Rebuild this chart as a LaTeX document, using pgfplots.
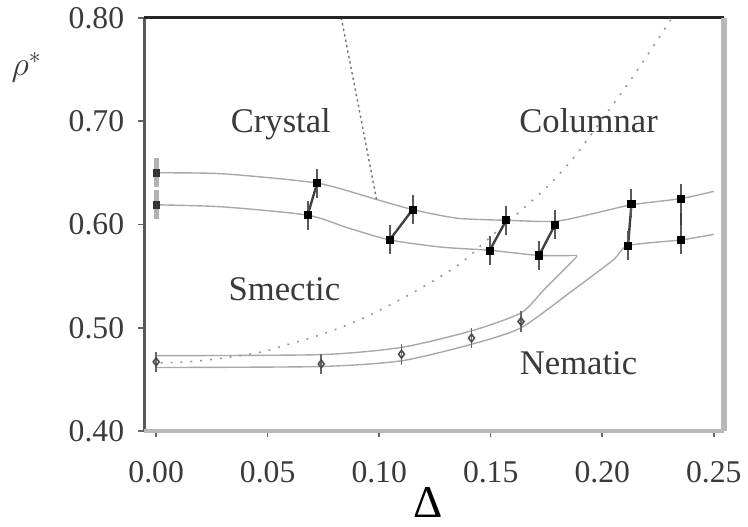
\documentclass[border=0pt]{standalone}
\usepackage{pgfplots}
\pgfplotsset{compat=1.18}
\usepackage{fontspec}
\setmainfont{Liberation Serif}
\definecolor{txt}{HTML}{3A3A3A}
\definecolor{ln}{HTML}{A8A8A8}
\definecolor{frm}{HTML}{B8B8B8}
\begin{document}
\begin{tikzpicture}
\begin{axis}[
  at={(0,0)}, anchor=south west,
  scale only axis, width=293pt, height=209pt,
  xmin=-0.0053, xmax=0.2545, ymin=0.40, ymax=0.80,
  axis x line*=bottom, axis y line*=left,
  axis line style={draw=none},
  clip=false,
  xtick={0,0.05,0.10,0.15,0.20,0.25},
  ytick={0.40,0.50,0.60,0.70,0.80},
  tick align=outside,
  major tick length=3pt,
  tick style={draw=black!60, line width=0.8pt},
  /pgf/number format/assume math mode=true,
  xticklabel style={/pgf/number format/.cd, fixed, fixed zerofill, precision=2, /tikz/.cd, font=\fontsize{16}{18}\selectfont, text=txt, yshift=-9pt},
  yticklabel style={/pgf/number format/.cd, fixed, fixed zerofill, precision=2, /tikz/.cd, font=\fontsize{16}{18}\selectfont, text=txt, xshift=-3.7pt},
]
% solid boundary lines
\addplot[ln, line width=0.7pt, smooth, tension=0.4] coordinates {
 (0,0.650) (0.03,0.649) (0.0722,0.640) (0.099,0.624) (0.115,0.6144) (0.135,0.606) (0.157,0.604) (0.1788,0.603) (0.195,0.610) (0.2131,0.619) (0.2353,0.625) (0.25,0.632)};
\addplot[ln, line width=0.7pt, smooth, tension=0.4] coordinates {
 (0,0.619) (0.03,0.617) (0.0679,0.609) (0.0855,0.597) (0.1047,0.585) (0.128,0.578) (0.1495,0.575) (0.1717,0.570) (0.1887,0.570)};
\addplot[ln, line width=0.7pt, smooth, tension=0.4] coordinates {
 (0,0.473) (0.074,0.474) (0.110,0.481) (0.1414,0.497) (0.1636,0.5144) (0.1739,0.5368) (0.1887,0.569)};
\addplot[ln, line width=0.7pt, smooth, tension=0.4] coordinates {
 (0,0.4615) (0.074,0.4625) (0.110,0.468) (0.1414,0.484) (0.1636,0.500) (0.1872,0.5368) (0.205,0.5657) (0.2116,0.5795) (0.2353,0.585) (0.25,0.5904)};
% dotted boundaries
\addplot[black!55, line width=0.7pt, dash pattern=on 1.2pt off 1.6pt, smooth] coordinates {
 (0.083,0.80) (0.0933,0.686) (0.0988,0.624)};
\addplot[black!40, line width=0.8pt, dash pattern=on 1pt off 4pt, smooth] coordinates {
 (0.002,0.466) (0.014,0.467) (0.0275,0.470) (0.046,0.476) (0.0593,0.484) (0.0719,0.492) (0.0844,0.5016) (0.0963,0.5128) (0.1074,0.525) (0.1192,0.539) (0.136,0.5615) (0.151,0.59) (0.166,0.618) (0.176,0.638) (0.1853,0.6596) (0.193,0.681) (0.2087,0.7276) (0.216,0.75) (0.224,0.776) (0.2307,0.798)};
% tie lines
\addplot[black!75, line width=1.2pt] coordinates {(0.0679,0.609) (0.0722,0.640)};
\addplot[black!75, line width=1.2pt] coordinates {(0.1047,0.585) (0.115,0.6144)};
\addplot[black!75, line width=1.2pt] coordinates {(0.1495,0.5747) (0.157,0.6042)};
\addplot[black!75, line width=1.2pt] coordinates {(0.1717,0.570) (0.1788,0.5995)};
\addplot[black!75, line width=1.2pt] coordinates {(0.2116,0.5795) (0.2131,0.620)};
\addplot[black!75, line width=1.2pt] coordinates {(0.2353,0.585) (0.2353,0.625)};
% x=0 points
\addplot[only marks, mark=square*, mark size=1.6pt, black!80,
  error bars/.cd, y dir=both, y fixed=0.014, error mark=none,
  error bar style={black!30, line width=2.5pt}] coordinates {(0,0.650) (0,0.619)};
% coexistence points
\addplot[only marks, mark=square*, mark size=1.8pt, black,
  error bars/.cd, y dir=both, y fixed=0.014, error mark=none,
  error bar style={black!65, line width=1pt}] coordinates {
 (0.0722,0.640) (0.115,0.6144) (0.157,0.6042) (0.1788,0.5995) (0.2131,0.620) (0.2353,0.625)
 (0.0679,0.609) (0.1047,0.585) (0.1495,0.5747) (0.1717,0.570) (0.2116,0.5795) (0.2353,0.585)};
% nematic points
\addplot[only marks, mark=diamond, mark size=2pt, black!70, line width=0.8pt,
  error bars/.cd, y dir=both, y fixed=0.01, error mark=none,
  error bar style={black!60, line width=0.8pt}] coordinates {
 (0,0.467) (0.074,0.465) (0.110,0.4744) (0.1414,0.490) (0.1636,0.506)};
% frame
\draw[black!65, line width=1.3pt] (rel axis cs:0,0) -- (rel axis cs:0,1);
\draw[black!85, line width=1.5pt] (rel axis cs:0,1) -- (rel axis cs:1,1);
\draw[frm, line width=3pt] (rel axis cs:1,1) -- (rel axis cs:1,0);
\draw[frm, line width=2pt] (rel axis cs:0,0) -- (rel axis cs:1,0);
% phase labels
\node[anchor=base, text=txt, font=\fontsize{17.5}{20}\selectfont] at (axis cs:0.0559,0.6885) {Crystal};
\node[anchor=base, text=txt, font=\fontsize{17.5}{20}\selectfont] at (axis cs:0.1939,0.6885) {Columnar};
\node[anchor=base, text=txt, font=\fontsize{17.5}{20}\selectfont] at (axis cs:0.0575,0.526) {Smectic};
\node[anchor=base, text=txt, font=\fontsize{17.5}{20}\selectfont] at (axis cs:0.1894,0.4548) {Nematic};
% axis titles
\node[text=txt, font=\fontsize{17}{20}\selectfont] at (rel axis cs:-0.203,0.88) {$\rho^{*}$};
\node[font=\fontsize{23}{26}\selectfont, anchor=base, inner sep=0pt] at (rel axis cs:0.49,-0.21) {Δ};
\end{axis}
\path[use as bounding box] (-73pt,-48.5pt) rectangle (301pt,218pt);
\end{tikzpicture}
\end{document}
